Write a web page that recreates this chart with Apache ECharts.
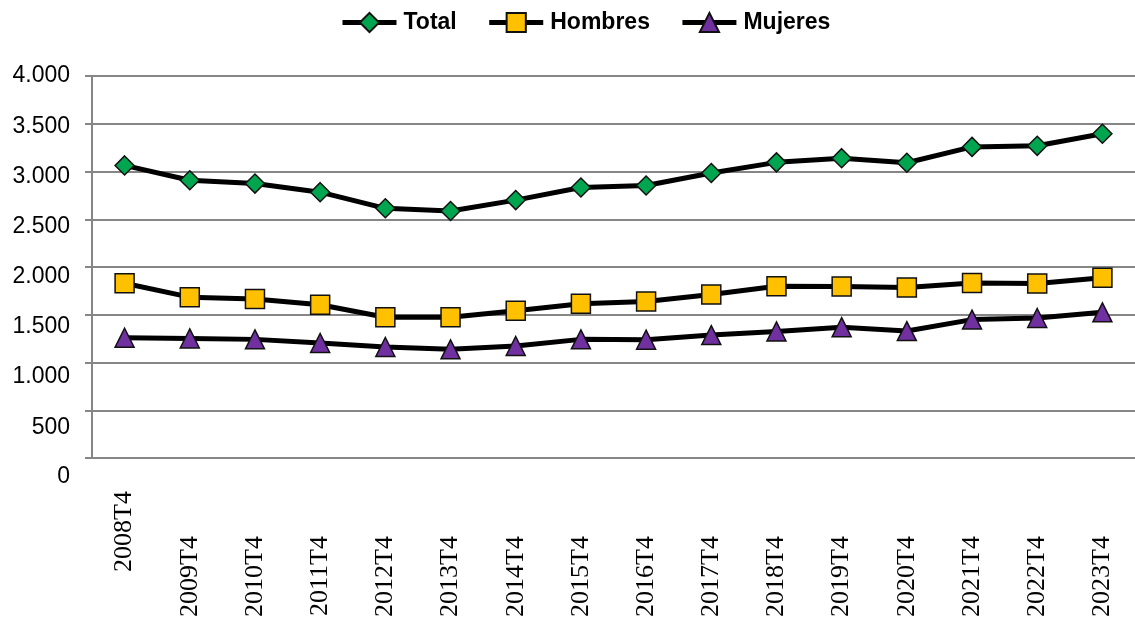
<!DOCTYPE html>
<html>
<head>
<meta charset="utf-8">
<script src="https://cdn.jsdelivr.net/npm/echarts@6/dist/echarts.min.js"></script>
<style>
html,body{margin:0;padding:0;background:#fff;}
#c{width:1135px;height:620px;}
</style>
</head>
<body>
<div id="c"></div>
<script>
const categories = ['2008T4','2009T4','2010T4','2011T4','2012T4','2013T4','2014T4','2015T4','2016T4','2017T4','2018T4','2019T4','2020T4','2021T4','2022T4','2023T4'];
const total   = [3064,2909,2874,2784,2615,2587,2701,2833,2854,2985,3096,3140,3092,3258,3269,3396];
const hombres = [1830,1685,1665,1606,1475,1475,1543,1616,1640,1713,1799,1796,1786,1834,1827,1889];
const mujeres = [1260,1253,1243,1205,1163,1139,1174,1243,1240,1288,1326,1371,1330,1450,1467,1526];
const seriesNames = ['Total','Hombres','Mujeres'];

const chart = echarts.init(document.getElementById('c'));
const mk = (name, data, symbol, color) => ({
  name, type: 'line', data, symbol, symbolSize: 19,
  lineStyle: {color: '#000', width: 5},
  itemStyle: {color: color, borderColor: '#111', borderWidth: 1.5},
  emphasis: {disabled: true}
});
chart.setOption({
  animation: false,
  backgroundColor: '#fff',
  legend: {
    top: 6, left: 335,
    itemWidth: 54, itemHeight: 24, itemGap: 30,
    lineStyle: {width: 5, color: '#000'},
    textStyle: {fontFamily: 'Liberation Sans', fontWeight: 'bold', fontSize: 23, color: '#000', padding: [0, 0, 0, 2]},
    data: seriesNames
  },
  grid: {left: 92, right: -5, top: 76, bottom: 161, containLabel: false},
  xAxis: {
    type: 'category', data: categories, boundaryGap: true,
    axisLine: {lineStyle: {color: '#868686', width: 2}},
    axisTick: {show: false},
    axisLabel: {
      rotate: 90, margin: 33, interval: 0,
      fontFamily: 'Liberation Serif', fontSize: 26, color: '#000',
      formatter: (v, i) => i === 0 ? '{a|' + v + '}' : '{b|' + v + '}',
      rich: {
        a: {fontFamily: 'Liberation Serif', fontSize: 26, color: '#000'},
        b: {fontFamily: 'Liberation Serif', fontSize: 26, color: '#000', padding: [0, 45, 0, 0]}
      }
    }
  },
  yAxis: {
    type: 'value', min: 0, max: 4000, interval: 500,
    axisLine: {show: true, lineStyle: {color: '#868686', width: 2}},
    axisTick: {show: true, length: 7, lineStyle: {color: '#868686', width: 2}},
    splitLine: {lineStyle: {color: '#868686', width: 2}},
    axisLabel: {
      margin: 22, color: '#000', fontFamily: 'Liberation Sans', fontSize: 23,
      formatter: v => {
        const s = String(v).replace(/\B(?=(\d{3})+(?!\d))/g, '.');
        const k = Math.round((4000 - v) / 500);
        return '{r' + k + '|' + s + '}';
      },
      rich: (() => {
        const r = {};
        for (let k = 0; k <= 8; k++) r['r' + k] = {fontFamily: 'Liberation Sans', fontSize: 23, color: '#000', padding: [Math.round(k * 4.8), 0, 0, 0]};
        return r;
      })()
    }
  },
  series: [
    mk(seriesNames[0], total, 'diamond', '#00A550'),
    mk(seriesNames[1], hombres, 'rect', '#FFC000'),
    mk(seriesNames[2], mujeres, 'triangle', '#7030A0')
  ]
});
</script>
</body>
</html>
